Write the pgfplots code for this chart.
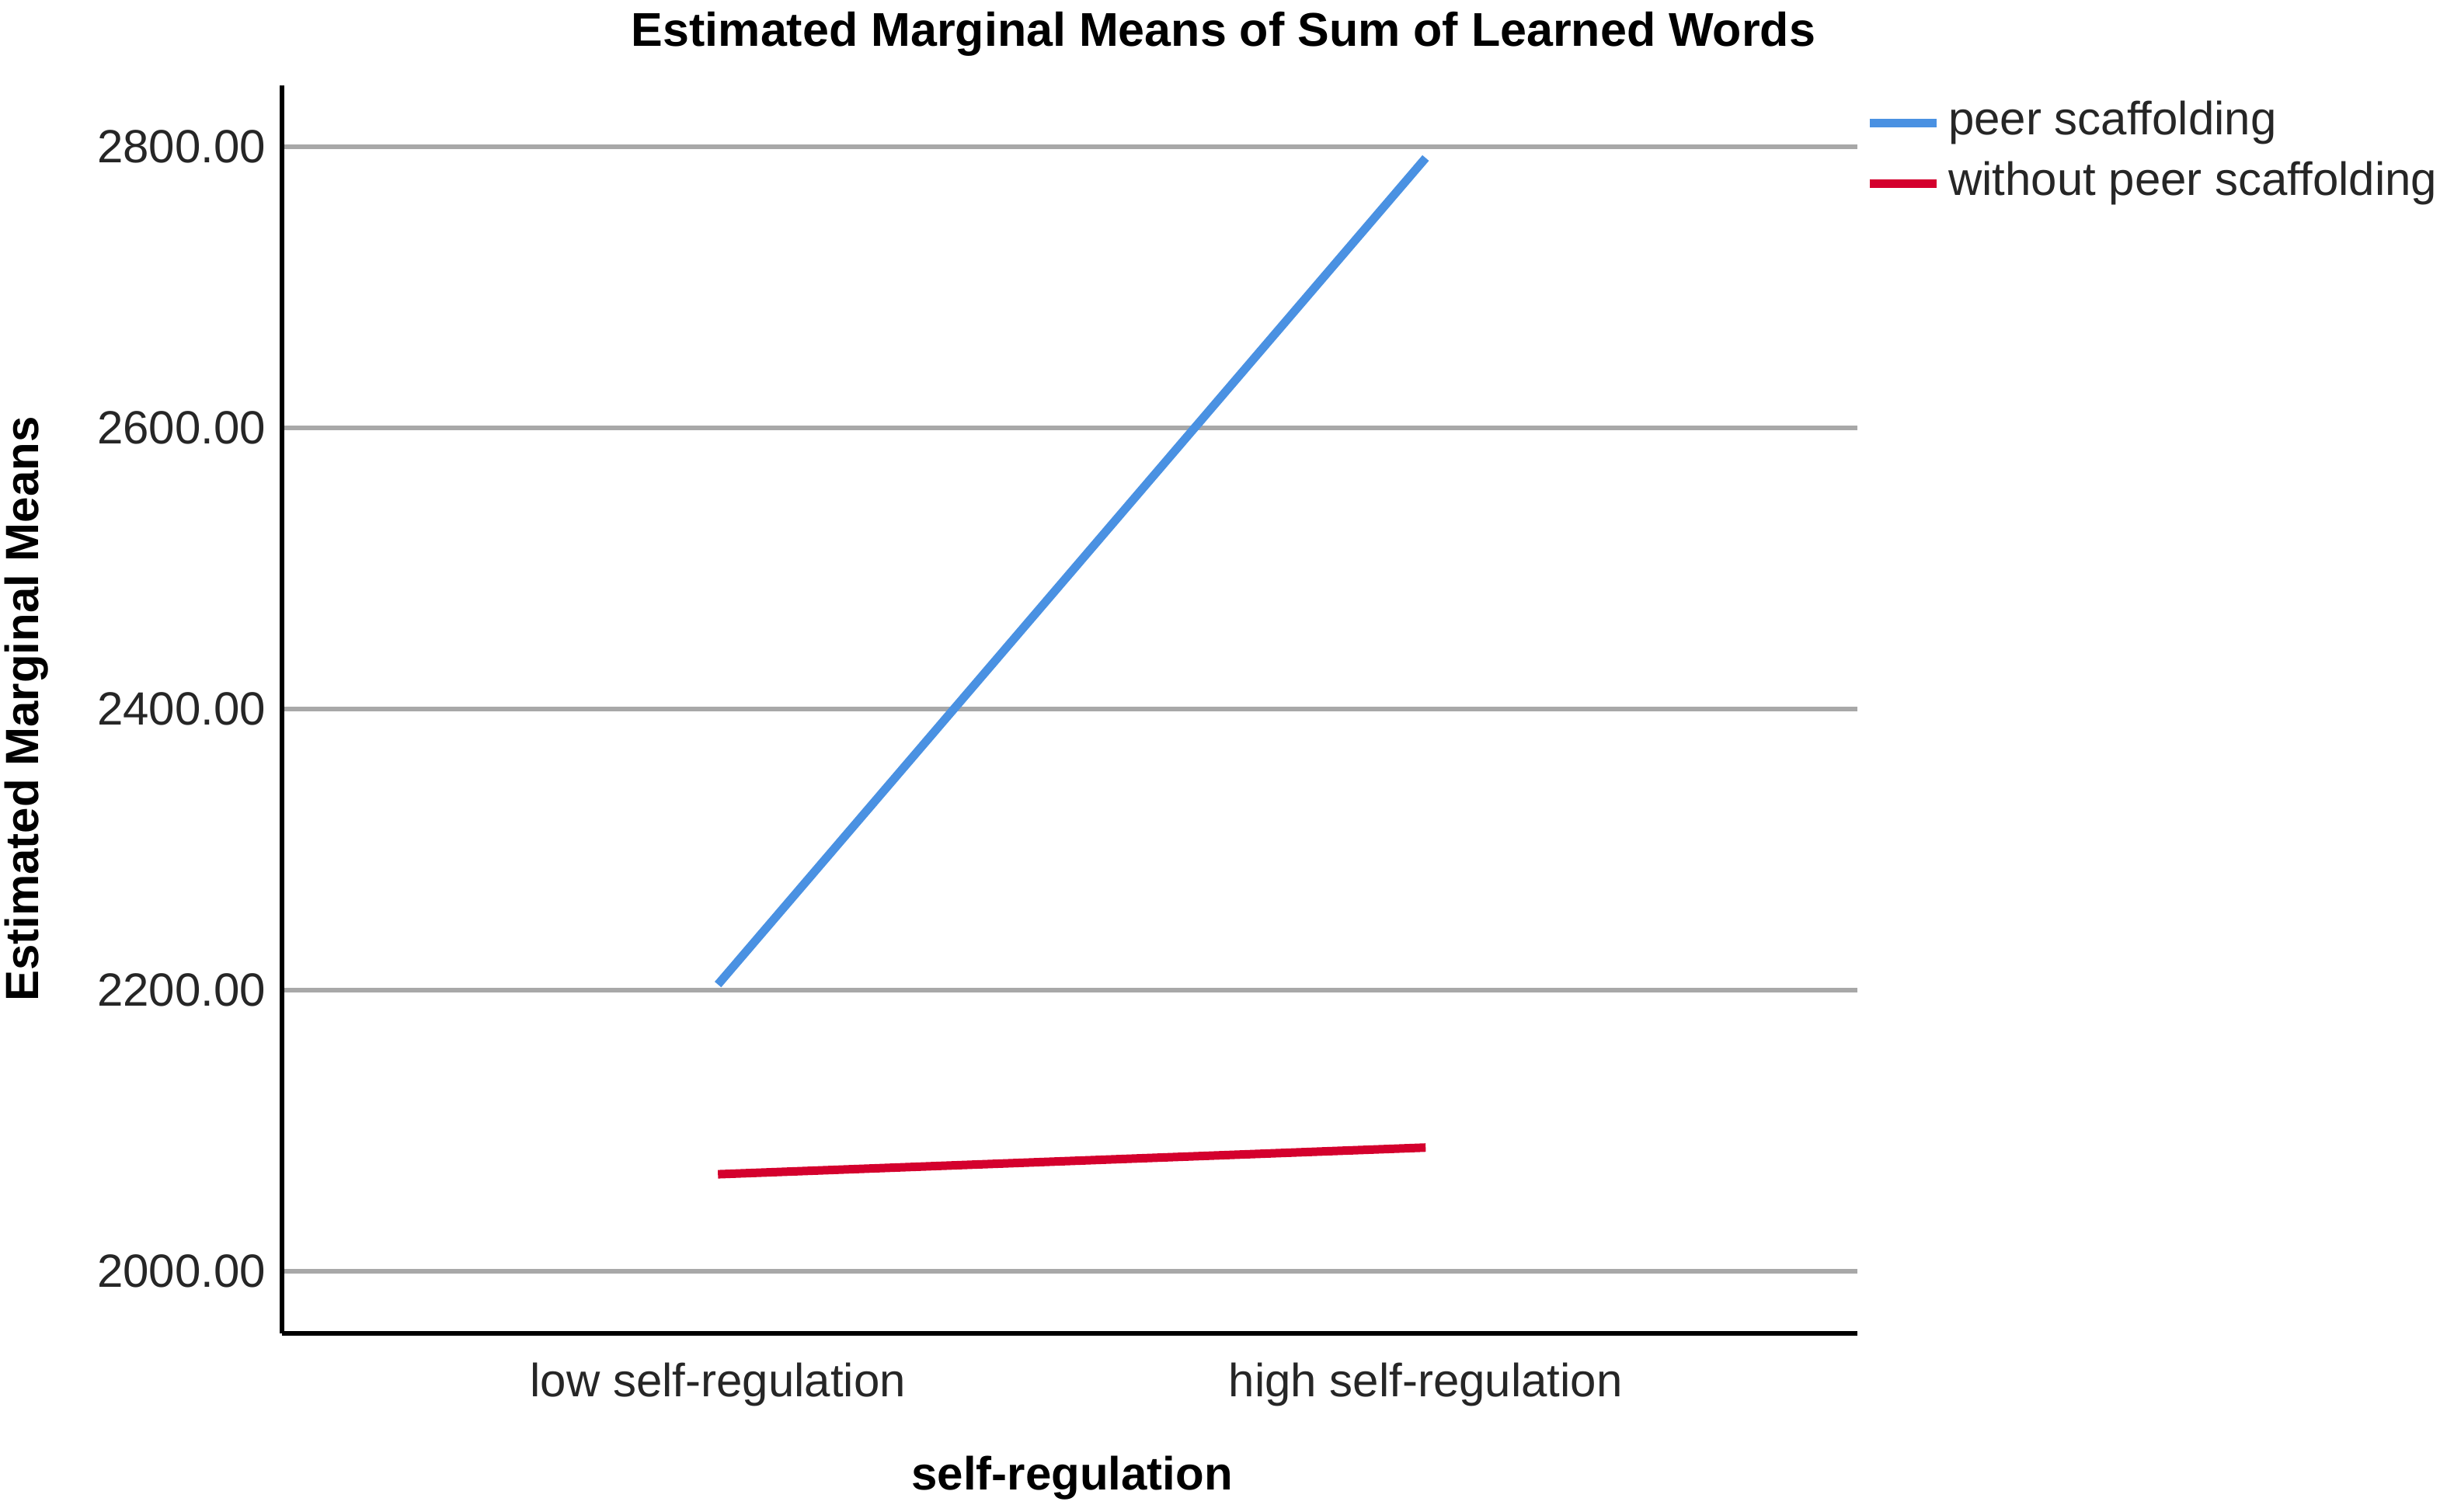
\documentclass[border=0pt]{standalone}
\usepackage{pgfplots}
\pgfplotsset{compat=1.18}
\usepackage{fontspec}
\setmainfont{Liberation Sans}
\definecolor{peerblue}{RGB}{74,145,226}
\definecolor{nopeerred}{RGB}{212,0,45}
\definecolor{gridgray}{RGB}{168,168,168}
\begin{document}
\fontsize{12}{14.4}\selectfont
\begin{tikzpicture}
\useasboundingbox (0,0) rectangle (630pt,389.2pt);
\begin{axis}[
  at={(72.6pt,45.8pt)}, anchor=south west,
  scale only axis, width=405.6pt, height=321.4pt,
  xmin=-0.616, xmax=1.61, ymin=1955.8, ymax=2843.6,
  xtick={0,1}, xticklabels={low self-regulation, high self-regulation},
  ytick={2000,2200,2400,2600,2800},
  yticklabel={\pgfmathprintnumber[fixed,fixed zerofill,precision=2,1000 sep={},assume math mode=true]{\tick}},
  ymajorgrids, grid style={gridgray, line width=1.2pt},
  axis x line*=bottom, axis y line*=left,
  axis line style={-, black, line width=1.2pt},
  major tick length=0pt,
  ticklabel style={font=\fontsize{12}{14.4}\selectfont, text=black!85},
  xticklabel style={yshift=-3.5pt},
  legend style={at={(axis description cs:1,1)}, anchor=north west, xshift=1.8pt, yshift=-2.4pt,
    draw=none, fill=none, inner sep=0pt, row sep=1.6pt, column sep=1pt,
    nodes={inner sep=1pt, text height=9pt, text depth=3pt, font=\fontsize{12}{14.4}\selectfont, text=black!85}},
  legend cell align=left,
  legend image code/.code={\draw (0pt,0pt) -- (17.2pt,0pt);},
]
\addplot[peerblue, line width=2.2pt] coordinates {(0,2204) (1,2792)};
\addlegendentry{peer scaffolding}
\addplot[nopeerred, line width=2.2pt] coordinates {(0,2069) (1,2088)};
\addlegendentry{without peer scaffolding}
\end{axis}
\node[font=\fontsize{12.2}{14.6}\selectfont\bfseries] at (315pt,380.4pt) {Estimated Marginal Means of Sum of Learned Words};
\node[font=\fontsize{12}{14.4}\selectfont\bfseries, rotate=90] at (6.8pt,206.6pt) {Estimated Marginal Means};
\node[font=\fontsize{12}{14.4}\selectfont\bfseries] at (276pt,8.6pt) {self-regulation};
\end{tikzpicture}
\end{document}
